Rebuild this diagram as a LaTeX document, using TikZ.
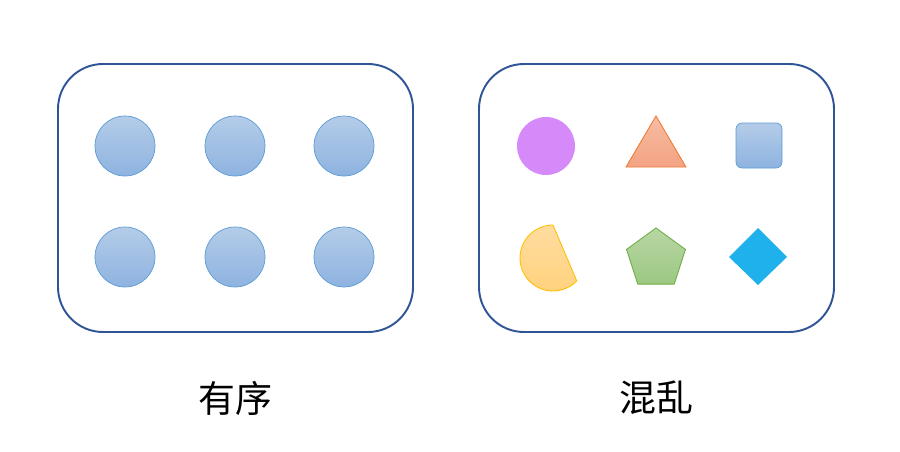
\documentclass[tikz,border=0pt]{standalone}
\usepackage{fontspec}
\newfontfamily\cjk{Noto Sans CJK SC}
\definecolor{frame}{HTML}{2F5597}
\definecolor{bluetop}{HTML}{B4CCE8}
\definecolor{bluebot}{HTML}{8EB3E0}
\definecolor{blueline}{HTML}{5B9BD5}
\definecolor{violet}{HTML}{D689F8}
\definecolor{orangetop}{HTML}{F6BCA4}
\definecolor{orangebot}{HTML}{F4A383}
\definecolor{orangeline}{HTML}{ED7D31}
\definecolor{goldtop}{HTML}{FFDCA0}
\definecolor{goldbot}{HTML}{FFD27E}
\definecolor{goldline}{HTML}{FFC000}
\definecolor{greentop}{HTML}{B8D6A4}
\definecolor{greenbot}{HTML}{9DC883}
\definecolor{greenline}{HTML}{70AD47}
\definecolor{sky}{HTML}{1FB1EB}

\begin{document}
\begin{tikzpicture}[x=0.02cm,y=0.02cm,
  box/.style={draw=frame,line width=1.1pt,rounded corners=0.9cm},
  ball/.style={draw=blueline,line width=0.4pt,top color=bluetop,bottom color=bluebot},
  label/.style={font=\cjk\fontsize{21}{25}\selectfont}]
  \useasboundingbox (0,0) rectangle (900,451);
  % two frames
  \draw[box] (58,387) rectangle (413,119);
  \draw[box] (479,387) rectangle (834,119);
  % ordered side
  \foreach \x in {125,235,344}
    \foreach \y in {305,194}
      \draw[ball] (\x,\y) circle[radius=30];
  % mixed side
  \fill[violet] (546,305) circle[radius=29];
  \draw[orangeline,line width=0.5pt,top color=orangetop,bottom color=orangebot]
    (656,335) -- (686,284) -- (626,284) -- cycle;
  \draw[ball,rounded corners=0.12cm] (736,328) rectangle (782,283);
  \draw[goldline,line width=0.5pt,top color=goldtop,bottom color=goldbot]
    (553,193) ++(90:33) arc[start angle=90,end angle=316,radius=33] -- cycle;
  \draw[greenline,line width=0.5pt,top color=greentop,bottom color=greenbot,shift={(656,192)}]
    (90:31) -- (162:31) -- (234:31) -- (306:31) -- (18:31) -- cycle;
  \fill[sky] (758,223) -- (787,194) -- (758,166) -- (729,194) -- cycle;
  % captions
  \node[label] (ordered) at (235,53) {有序};
  \node[label] (mixed) at (656,53) {混乱};
\end{tikzpicture}
\end{document}
